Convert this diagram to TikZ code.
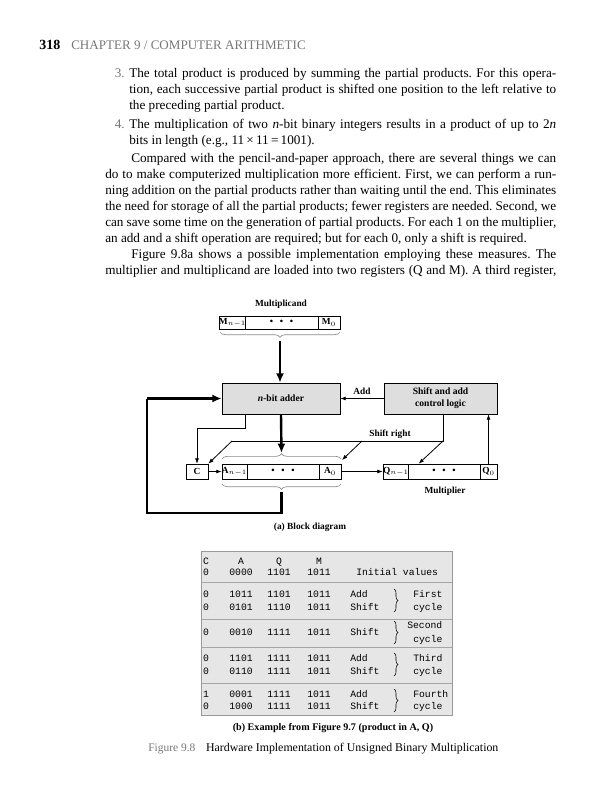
\documentclass[tikz,border=0pt]{standalone}
\usepackage{fontspec}
\setmainfont{Liberation Serif}
\setmonofont{Liberation Mono}
\usetikzlibrary{arrows.meta,decorations.pathreplacing,calc}
\definecolor{boxgray}{RGB}{222,222,222}
\definecolor{tblgray}{RGB}{230,230,230}
\definecolor{txtgray}{RGB}{120,120,120}
\definecolor{bracegray}{RGB}{140,140,140}
\frenchspacing
\begin{document}
\begin{tikzpicture}[x=0.75pt,y=-0.75pt,
  body/.style={anchor=base west,inner sep=0pt,font=\fontsize{9.9}{12}\selectfont},
  inum/.style={anchor=base east,inner sep=0pt,text=txtgray,font=\fontsize{9.9}{12}\selectfont},
  lab/.style={inner sep=0pt,font=\fontsize{7}{8}\selectfont\bfseries},
  gbox/.style={draw,line width=0.5pt,fill=boxgray,inner sep=0pt,align=center,font=\fontsize{7.2}{9}\selectfont\bfseries},
  cell/.style={draw,line width=0.5pt,fill=white,inner sep=0pt,font=\fontsize{7}{8}\selectfont\bfseries},
  thinarrow/.style={line width=0.6pt,-{Latex[length=4pt,width=3pt]}},
  thinline/.style={line width=0.6pt},
  thickarrow/.style={line width=1.8pt,-{Latex[length=7pt,width=6pt]}},
  thickline/.style={line width=1.8pt},
  brc/.style={draw=bracegray,line width=0.5pt,decorate,decoration={brace,amplitude=4pt}},
  tbr/.style={draw=black,line width=0.4pt,decorate,decoration={brace,amplitude=3pt}},
  tb/.style={anchor=base,inner sep=0pt,font=\fontsize{7.3}{8}\selectfont\ttfamily},
  tbw/.style={anchor=base west,inner sep=0pt,font=\fontsize{7.3}{8}\selectfont\ttfamily},
  sep/.style={draw=gray!70,line width=0.7pt}]
\useasboundingbox[fill=white] (0,0) rectangle (604,800);

% header
\node[anchor=base west,inner sep=0pt,font=\fontsize{10.5}{12}\selectfont\bfseries] (pg) at (39,49) {318};
\node[anchor=base west,inner sep=0pt,text=txtgray,font=\fontsize{9.8}{11}\selectfont] (chap) at (71,49) {CHAPTER 9 / COMPUTER ARITHMETIC};

% items
\node[inum] (n3) at (125,77) {3.};
\node[body] (i31) at (129,77) {\makebox[320.25pt][s]{The total product is produced by summing the partial products. For this opera-}};
\node[body] (i32) at (129,93) {\makebox[320.25pt][s]{tion, each successive partial product is shifted one position to the left relative to}};
\node[body] (i33) at (129,109) {the preceding partial product.};
\node[inum] (n4) at (125,128) {4.};
\node[body] (i41) at (129,128) {\makebox[320.25pt][s]{The multiplication of two \textit{n}-bit binary integers results in a product of up to 2\textit{n}}};
\node[body] (i42) at (129,144) {bits in length (e.g., 11\,×\,11\,=\,1001).};

% paragraph
\node[body] (p1) at (131,162) {\makebox[318.75pt][s]{Compared with the pencil-and-paper approach, there are several things we can}};
\node[body] (p2) at (105,178) {\makebox[338.25pt][s]{do to make computerized multiplication more efficient. First, we can perform a run-}};
\node[body] (p3) at (105,194) {\makebox[338.25pt][s]{ning addition on the partial products rather than waiting until the end. This eliminates}};
\node[body] (p4) at (105,210) {\makebox[338.25pt][s]{the need for storage of all the partial products; fewer registers are needed. Second, we}};
\node[body] (p5) at (105,226) {\makebox[338.25pt][s]{can save some time on the generation of partial products. For each 1 on the multiplier,}};
\node[body] (p6) at (105,242) {an add and a shift operation are required; but for each 0, only a shift is required.};
\node[body] (p7) at (131,258) {\makebox[318.75pt][s]{Figure 9.8a shows a possible implementation employing these measures. The}};
\node[body] (p8) at (105,274) {\makebox[338.25pt][s]{multiplier and multiplicand are loaded into two registers (Q and M). A third register,}};

% ---------- block diagram ----------
\node[lab] (mcand) at (281,304) {Multiplicand};
\node[cell,minimum width=18.75pt,minimum height=9.75pt] (Mh) at (232.5,322.5) {M$_{n-1}$};
\node[cell,minimum width=54.75pt,minimum height=9.75pt] (Md) at (281.5,322.5) {\textbullet\hspace{5pt}\textbullet\hspace{5pt}\textbullet};
\node[cell,minimum width=16.5pt,minimum height=9.75pt] (Ml) at (329,322.5) {M$_0$};
\draw[brc] (340,332) -- (220,332);
\coordinate (mtip) at (280,341);
\node[gbox,minimum width=88.5pt,minimum height=23.25pt] (adder) at (281,398.5) {\textit{n}-bit adder};
\node[gbox,minimum width=84.75pt,minimum height=23.25pt] (ctrl) at (440.5,398.5) {Shift and add\\control logic};
\draw[thickarrow] (mtip) -- (adder.north -| mtip);
\draw[thinarrow] (ctrl.west) -- (adder.east);
\node[lab] (addlab) at (362,391) {Add};

% registers
\node[cell,minimum width=16.5pt,minimum height=11.25pt] (C) at (197,471.5) {C};
\node[cell,minimum width=18.75pt,minimum height=11.25pt] (Ah) at (234.5,471.5) {A$_{n-1}$};
\node[cell,minimum width=54pt,minimum height=11.25pt] (Ad) at (283,471.5) {\textbullet\hspace{5pt}\textbullet\hspace{5pt}\textbullet};
\node[cell,minimum width=16.5pt,minimum height=11.25pt] (Al) at (330,471.5) {A$_0$};
\node[cell,minimum width=19.5pt,minimum height=11.25pt] (Qh) at (396,471.5) {Q$_{n-1}$};
\node[cell,minimum width=54pt,minimum height=11.25pt] (Qd) at (444,471.5) {\textbullet\hspace{5pt}\textbullet\hspace{5pt}\textbullet};
\node[cell,minimum width=12.75pt,minimum height=11.25pt] (Ql) at (488.5,471.5) {Q$_0$};
\node[lab] (mult) at (445,491) {Multiplier};
\draw[thinarrow] (C.east) -- (Ah.west);
\draw[thinarrow] (Al.east) -- (Qh.west);
\draw[thinarrow] (Ql.north) -- (Ql.north |- ctrl.south);

% braces around A
\draw[brc] (222,459) -- (341,459);
\draw[brc] (341,484) -- (222,484);
\coordinate (atop) at (281.5,453);
\coordinate (abot) at (281.5,492);
\draw[thickarrow] (adder.south) -- (atop);
\draw[thickline] (abot) -- (281.5,513) -- (147,513) -- (147,398.5);
\draw[thickarrow] (147,398.5) -- (adder.west);

% adder to C
\coordinate (cout) at (245,414);
\draw[thinarrow] (cout) -- (245,428) -- (197,428) -- (C.north);

% shift right
\coordinate (sr) at (443,414);
\coordinate (srL) at (232,441);
\coordinate (srM) at (362,441);
\coordinate (srR) at (443,441);
\draw[thinline] (sr) -- (srR) -- (srL);
\draw[thinarrow] (srL) -- (C.north east);
\draw[thinarrow] (srM) -- (342,460);
\draw[thinarrow] (srR) -- ($(Qd.north west)+(11,0)$);
\node[lab] (srlab) at (390,434) {Shift right};

\node[lab] (capa) at (310,527) {(a) Block diagram};

% ---------- table ----------
\node[draw=gray!80,line width=0.6pt,fill=tblgray,minimum width=188.25pt,minimum height=123pt,inner sep=0pt] (tbl) at (326.5,633) {};
\draw[sep] (tbl.west |- 0,582) -- (tbl.east |- 0,582);
\draw[sep] (tbl.west |- 0,619) -- (tbl.east |- 0,619);
\draw[sep] (tbl.west |- 0,647) -- (tbl.east |- 0,647);
\draw[sep] (tbl.west |- 0,683) -- (tbl.east |- 0,683);

\node[tb] (h1) at (206,564) {C};
\node[tb] (h2) at (241,564) {A};
\node[tb] (h3) at (279,564) {Q};
\node[tb] (h4) at (319,564) {M};

\node[tb] (r0c) at (206,575) {0};
\node[tb] (r0a) at (241,575) {0000};
\node[tb] (r0q) at (279,575) {1101};
\node[tb] (r0m) at (319,575) {1011};
\node[tbw] (r0o) at (356,575) {Initial values};

\node[tb] (r1c) at (206,597) {0};
\node[tb] (r1a) at (241,597) {1011};
\node[tb] (r1q) at (279,597) {1101};
\node[tb] (r1m) at (319,597) {1011};
\node[tbw] (r1o) at (350,597) {Add};
\node[tb] (r2c) at (206,610) {0};
\node[tb] (r2a) at (241,610) {0101};
\node[tb] (r2q) at (279,610) {1110};
\node[tb] (r2m) at (319,610) {1011};
\node[tbw] (r2o) at (350,610) {Shift};
\draw[tbr] (394,589) -- (394,612);
\node[tbw] (cy1a) at (413,597) {First};
\node[tbw] (cy1b) at (413,610) {cycle};

\node[tb] (r3c) at (206,635) {0};
\node[tb] (r3a) at (241,635) {0010};
\node[tb] (r3q) at (279,635) {1111};
\node[tb] (r3m) at (319,635) {1011};
\node[tbw] (r3o) at (350,635) {Shift};
\draw[tbr] (394,621) -- (394,644);
\node[tbw] (cy2a) at (407,628) {Second};
\node[tbw] (cy2b) at (413,642) {cycle};

\node[tb] (r4c) at (206,661) {0};
\node[tb] (r4a) at (241,661) {1101};
\node[tb] (r4q) at (279,661) {1111};
\node[tb] (r4m) at (319,661) {1011};
\node[tbw] (r4o) at (350,661) {Add};
\node[tb] (r5c) at (206,674) {0};
\node[tb] (r5a) at (241,674) {0110};
\node[tb] (r5q) at (279,674) {1111};
\node[tb] (r5m) at (319,674) {1011};
\node[tbw] (r5o) at (350,674) {Shift};
\draw[tbr] (394,653) -- (394,676);
\node[tbw] (cy3a) at (413,661) {Third};
\node[tbw] (cy3b) at (413,674) {cycle};

\node[tb] (r6c) at (206,697) {1};
\node[tb] (r6a) at (241,697) {0001};
\node[tb] (r6q) at (279,697) {1111};
\node[tb] (r6m) at (319,697) {1011};
\node[tbw] (r6o) at (350,697) {Add};
\node[tb] (r7c) at (206,709) {0};
\node[tb] (r7a) at (241,709) {1000};
\node[tb] (r7q) at (279,709) {1111};
\node[tb] (r7m) at (319,709) {1011};
\node[tbw] (r7o) at (350,709) {Shift};
\draw[tbr] (394,689) -- (394,712);
\node[tbw] (cy4a) at (413,697) {Fourth};
\node[tbw] (cy4b) at (413,709) {cycle};

\node[inner sep=0pt,font=\fontsize{7.6}{9}\selectfont\bfseries] (capb) at (333,728) {(b) Example from Figure 9.7 (product in A, Q)};
\node[anchor=base west,inner sep=0pt,font=\fontsize{8.9}{11}\selectfont] (fig) at (148,751) {{\color{txtgray}\fontsize{8.6}{11}\selectfont Figure 9.8}\hspace{8pt}Hardware Implementation of Unsigned Binary Multiplication};
\end{tikzpicture}
\end{document}
